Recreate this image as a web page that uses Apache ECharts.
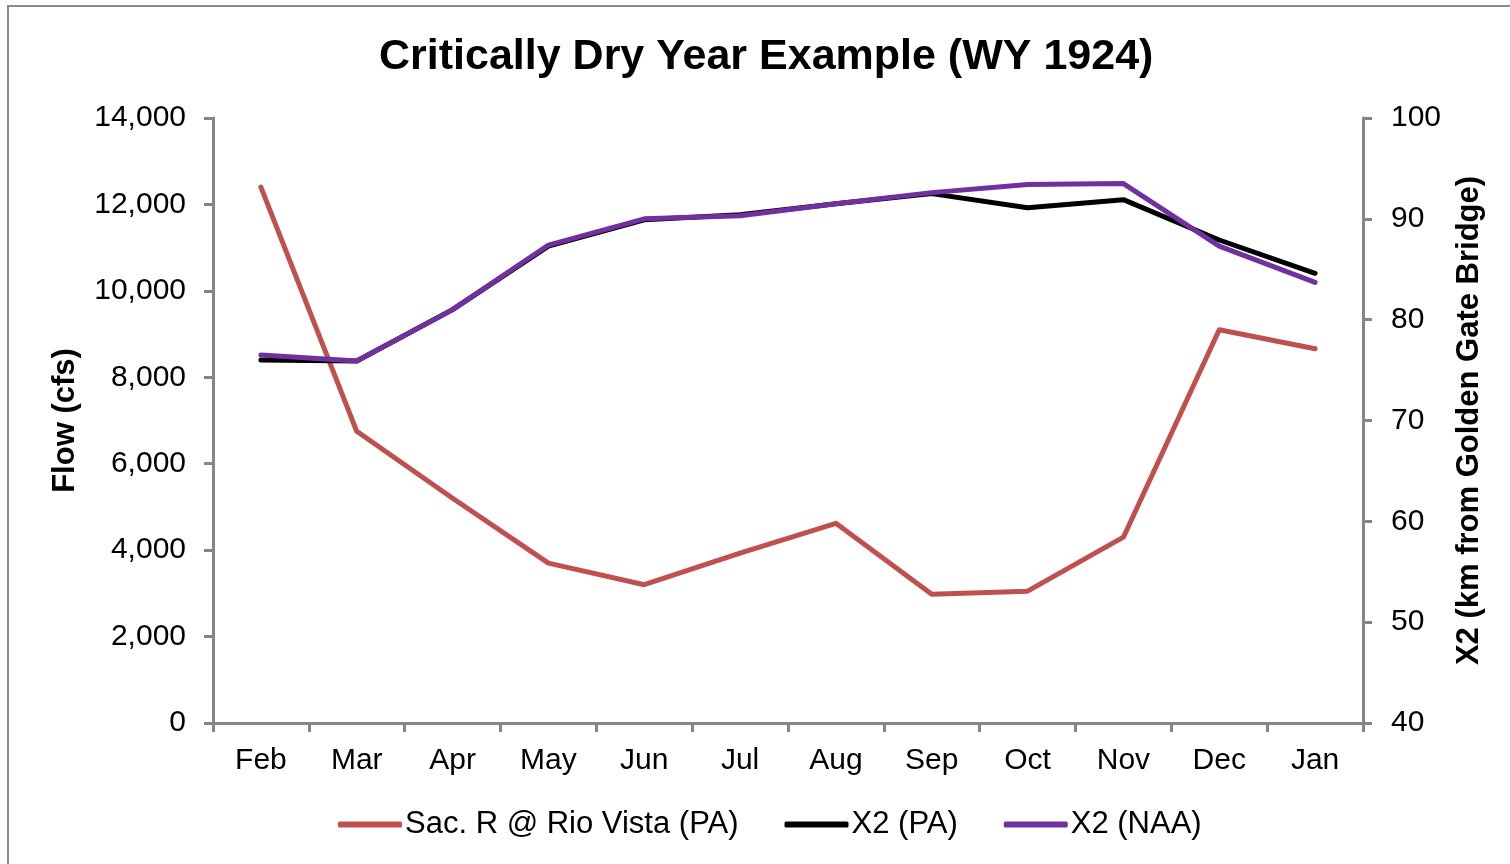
<!DOCTYPE html>
<html>
<head>
<meta charset="utf-8">
<script src="https://cdn.jsdelivr.net/npm/echarts@6/dist/echarts.min.js"></script>
<style>
  html,body{margin:0;padding:0;background:#fff;}
  #main{width:1510px;height:864px;}
</style>
</head>
<body>
<div id="main"></div>
<script>
  // months of the water year
  var months = ['Feb','Mar','Apr','May','Jun','Jul','Aug','Sep','Oct','Nov','Dec','Jan'];
  // Sac. R @ Rio Vista flow (cfs), left axis
  var sacRioVista = [12400, 6750, 5200, 3700, 3200, 3930, 4620, 2980, 3050, 4300, 9100, 8660];
  // X2 position (km from Golden Gate Bridge), right axis
  var x2PA  = [76.0, 75.9, 81.0, 87.3, 89.9, 90.4, 91.5, 92.5, 91.1, 91.9, 87.9, 84.6];
  var x2NAA = [76.5, 75.9, 81.0, 87.4, 90.0, 90.3, 91.5, 92.6, 93.4, 93.5, 87.3, 83.7];

  var axisGray = '#868686';
  var font = 'Liberation Sans, Arial, sans-serif';

  var chart = echarts.init(document.getElementById('main'));
  var option = {
    animation:false,
    backgroundColor:'#fff',
    graphic:[{
      type:'rect',
      shape:{x:8,y:6,width:1600,height:1000},
      style:{fill:'none',stroke:'#8a8a8a',lineWidth:2},
      silent:true
    }],
    title:{
      text:'Critically Dry Year Example (WY 1924)',
      left:379,
      top:36,
      padding:0,
      textStyle:{fontFamily:font,fontSize:43,fontWeight:'bold',color:'#000'}
    },
    legend:{
      data:['Sac. R @ Rio Vista (PA)','X2 (PA)','X2 (NAA)'],
      left:338,
      top:809,
      padding:0,
      itemWidth:64,
      itemHeight:6,
      itemGap:46,
      icon:'roundRect',
      textStyle:{fontFamily:font,fontSize:31,color:'#000',padding:[0,0,0,-2]}
    },
    grid:{left:213,right:147,top:118,bottom:141,containLabel:false},
    xAxis:{
      type:'category',
      data:months,
      boundaryGap:true,
      axisLine:{lineStyle:{color:axisGray,width:3}},
      axisTick:{show:true,length:9,interval:0,lineStyle:{color:axisGray,width:3}},
      axisLabel:{fontFamily:font,fontSize:30,color:'#000',margin:23,interval:0},
      splitLine:{show:false}
    },
    yAxis:[{
      type:'value',
      min:0,max:14000,interval:2000,
      name:'Flow (cfs)',
      nameLocation:'middle',
      nameGap:132,
      nameTextStyle:{fontFamily:font,fontSize:31,fontWeight:'bold',color:'#000'},
      axisLine:{show:true,lineStyle:{color:axisGray,width:3}},
      axisTick:{show:true,length:9,lineStyle:{color:axisGray,width:3}},
      axisLabel:{fontFamily:font,fontSize:30,color:'#000',margin:27,
        formatter:function(v){return v.toLocaleString('en-US');}},
      splitLine:{show:false}
    },{
      type:'value',
      position:'right',
      min:40,max:100,interval:10,
      name:'X2 (km from Golden Gate Bridge)',
      nameLocation:'middle',
      nameGap:91,
      nameRotate:90,
      nameTextStyle:{fontFamily:font,fontSize:31,fontWeight:'bold',color:'#000'},
      axisLine:{show:true,lineStyle:{color:axisGray,width:3}},
      axisTick:{show:true,length:9,lineStyle:{color:axisGray,width:3}},
      axisLabel:{fontFamily:font,fontSize:30,color:'#000',margin:28},
      splitLine:{show:false}
    }],
    series:[{
      name:'Sac. R @ Rio Vista (PA)',
      type:'line',
      yAxisIndex:0,
      data:sacRioVista,
      symbol:'none',
      color:'#C0504D',
      lineStyle:{width:5,color:'#C0504D',cap:'round',join:'round'}
    },{
      name:'X2 (PA)',
      type:'line',
      yAxisIndex:1,
      data:x2PA,
      symbol:'none',
      color:'#000000',
      lineStyle:{width:5,color:'#000000',cap:'round',join:'round'}
    },{
      name:'X2 (NAA)',
      type:'line',
      yAxisIndex:1,
      data:x2NAA,
      symbol:'none',
      color:'#7030A0',
      lineStyle:{width:5,color:'#7030A0',cap:'round',join:'round'}
    }]
  };
  chart.setOption(option);
</script>
</body>
</html>
